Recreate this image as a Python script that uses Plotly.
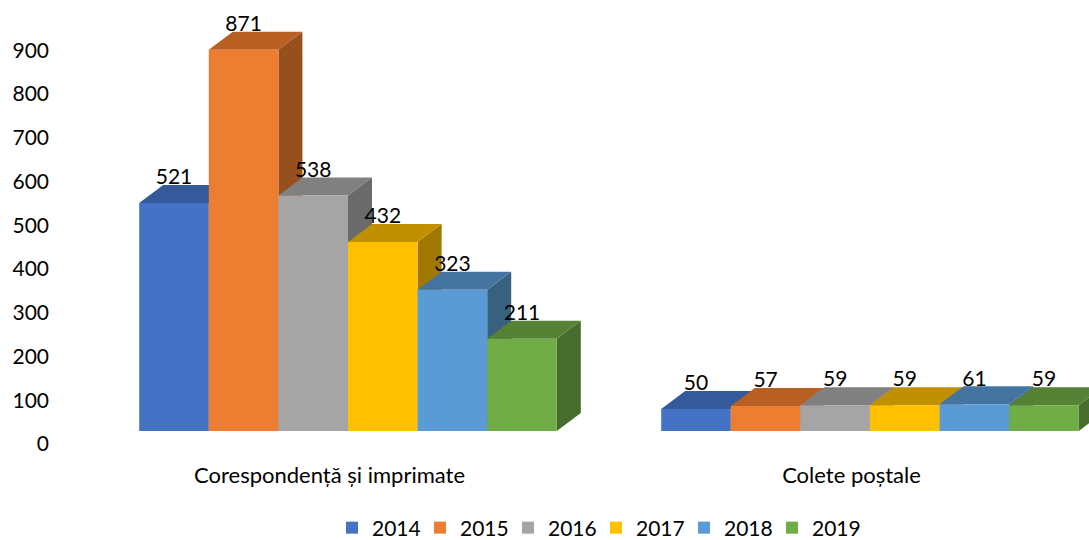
import plotly.graph_objects as go

categories = ["Corespondență și imprimate", "Colete poștale"]
years = ["2014", "2015", "2016", "2017", "2018", "2019"]
v2014 = [521, 50]
v2015 = [871, 57]
v2016 = [538, 59]
v2017 = [432, 59]
v2018 = [323, 61]
v2019 = [211, 59]
series = [v2014, v2015, v2016, v2017, v2018, v2019]
front = ["#4472C4", "#ED7D31", "#A5A5A5", "#FFC000", "#5B9BD5", "#70AD47"]
top = ["#355A9C", "#B85F24", "#808080", "#C09000", "#44749F", "#558235"]
side = ["#2C4A80", "#96501E", "#6A6A6A", "#A07800", "#38607F", "#476D2E"]

W, H = 1089, 540
ML, MB = 50, 78
PX_PER_CAT = 522.0
PX_PER_UNIT = 0.4376
CAT0_PX = 348.0
BASE_PX = 431.0
ZERO_LABEL_PX = 444.0
PLOT_BOTTOM = H - MB
bw = 1 / 7.5
dx = 24 / PX_PER_CAT
dy = 18 / PX_PER_UNIT
lab = 24 / PX_PER_UNIT
cat_shift = 18.5 / PX_PER_CAT
font = "Lato, Open Sans, sans-serif"
FS = 21

fig = go.Figure()
for j, (yr, vals) in enumerate(zip(years, series)):
    xs = [i + (j - 2.5) * bw for i in range(len(categories))]
    for x, v in zip(xs, vals):
        x0, x1 = x - bw / 2, x + bw / 2
        fig.add_trace(go.Scatter(x=[x1, x1 + dx, x1 + dx, x1, x1], y=[0, dy, v + dy, v, 0], mode="lines",
                                 fill="toself", fillcolor=side[j], line=dict(width=0), showlegend=False,
                                 hoverinfo="skip", zorder=2 * j))
        fig.add_trace(go.Scatter(x=[x0, x1, x1 + dx, x0 + dx, x0], y=[v, v, v + dy, v + dy, v], mode="lines",
                                 fill="toself", fillcolor=top[j], line=dict(width=0), showlegend=False,
                                 hoverinfo="skip", zorder=2 * j))
    fig.add_trace(go.Bar(x=xs, y=vals, width=bw, name=yr, marker=dict(color=front[j], line=dict(width=0)),
                         zorder=2 * j + 1))
for j, (yr, vals) in enumerate(zip(years, series)):
    xs = [i + (j - 2.5) * bw for i in range(len(categories))]
    fig.add_trace(go.Scatter(x=xs, y=[v + lab for v in vals], mode="text", text=[str(v) for v in vals],
                             textposition="middle center", textfont=dict(family=font, size=FS, color="#000000"),
                             showlegend=False, hoverinfo="skip", zorder=50))
# invisible carrier for the value axis, whose labels sit slightly below the bars' front plane
fig.add_trace(go.Scatter(x=[0], y=[0], yaxis="y2", mode="markers", marker=dict(opacity=0), showlegend=False, hoverinfo="skip"))

plot_h = PLOT_BOTTOM
fig.update_layout(
    width=W, height=H, autosize=False, barmode="overlay",
    paper_bgcolor="white", plot_bgcolor="rgba(0,0,0,0)",
    margin=dict(l=ML, r=0, t=0, b=MB, pad=0),
    font=dict(family=font, size=FS, color="#000000"),
    xaxis=dict(range=[(ML - CAT0_PX) / PX_PER_CAT, (W - CAT0_PX) / PX_PER_CAT], tickmode="array",
               tickvals=[i - cat_shift for i in range(len(categories))], ticktext=categories, showgrid=False,
               zeroline=False, showline=False, ticks="", ticklen=0, tickfont=dict(family=font, size=22),
               ticklabelstandoff=-2),
    yaxis=dict(range=[(BASE_PX - plot_h) / PX_PER_UNIT, BASE_PX / PX_PER_UNIT], showgrid=False, zeroline=False,
               showline=False, showticklabels=False, ticks=""),
    yaxis2=dict(range=[(ZERO_LABEL_PX - plot_h) / PX_PER_UNIT, ZERO_LABEL_PX / PX_PER_UNIT], overlaying="y", side="left",
                anchor="x", tickmode="array", tickvals=list(range(0, 1000, 100)), showgrid=False, zeroline=False,
                showline=False, ticks="", tickfont=dict(family=font, size=FS)),
    legend=dict(orientation="h", x=332 / W, xref="container", xanchor="left", y=12 / H, yref="container", yanchor="middle",
                font=dict(family=font, size=FS), traceorder="normal", entrywidth=43, entrywidthmode="pixels"),
)
fig.write_html("out.html", post_script="document.body.style.margin='0';", config=dict(displayModeBar=False))
